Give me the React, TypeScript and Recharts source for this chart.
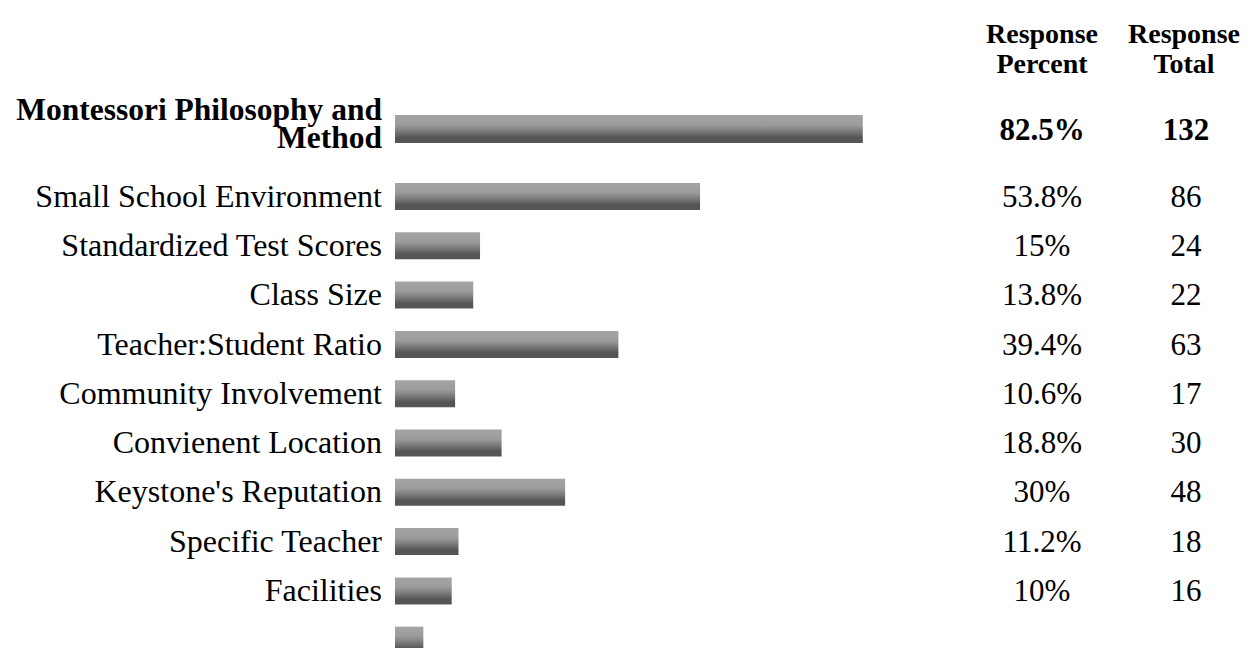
import { Bar, BarChart, XAxis, YAxis } from 'recharts'

const categories = [
  'Montessori Philosophy and Method',
  'Small School Environment',
  'Standardized Test Scores',
  'Class Size',
  'Teacher:Student Ratio',
  'Community Involvement',
  'Convienent Location',
  "Keystone's Reputation",
  'Specific Teacher',
  'Facilities',
  '',
]
const percents = [82.5, 53.8, 15, 13.8, 39.4, 10.6, 18.8, 30, 11.2, 10, 5]
const totals: (number | null)[] = [132, 86, 24, 22, 63, 17, 30, 48, 18, 16, null]
const headerLines = [
  ['Response', 'Percent'],
  ['Response', 'Total'],
]

const FONT = '"Liberation Serif", "Times New Roman", serif'
const LABEL_RIGHT = 382
const PCT_X = 1042
const TOTAL_X = 1186
const AXIS_W = 395
const RIGHT_MARGIN = 298

const rows = categories.map((name, i) => ({ name, percent: percents[i], total: totals[i] }))
const topRows = rows.slice(0, 1)
const restRows = rows.slice(1)

function GradientDef({ id }: { id: string }) {
  return (
    <defs>
      <linearGradient id={id} x1="0" y1="0" x2="0" y2="1">
        <stop offset="0%" stopColor="#a4a4a4" />
        <stop offset="35%" stopColor="#9c9c9c" />
        <stop offset="55%" stopColor="#808080" />
        <stop offset="72%" stopColor="#646464" />
        <stop offset="80%" stopColor="#555555" />
        <stop offset="100%" stopColor="#555555" />
      </linearGradient>
    </defs>
  )
}

function RowTick(props: any) {
  const { y, payload, list, bold } = props
  const row = list.find((r: any) => r.name === payload.value)
  if (!row || !row.name) return null
  const weight = bold ? 'bold' : 'normal'
  const cut = row.name.lastIndexOf(' ')
  return (
    <g fontFamily={FONT} fontSize={bold ? 31.5 : 32} fill="#000" fontWeight={weight}>
      {bold ? (
        <text x={LABEL_RIGHT} y={y} textAnchor="end">
          <tspan x={LABEL_RIGHT} dy={-9}>{row.name.slice(0, cut)}</tspan>
          <tspan x={LABEL_RIGHT} dy={28}>{row.name.slice(cut + 1)}</tspan>
        </text>
      ) : (
        <text x={LABEL_RIGHT} y={y + 10} textAnchor="end">{row.name}</text>
      )}
      <text x={PCT_X} y={y + (bold ? 11 : 10)} textAnchor="middle" fontSize={31}>{row.percent}%</text>
      {row.total != null && (
        <text x={TOTAL_X} y={y + (bold ? 11 : 10)} textAnchor="middle" fontSize={31}>{row.total}</text>
      )}
    </g>
  )
}

function RowChart({ data, height, barSize, id, bold }: any) {
  return (
    <BarChart
      layout="vertical"
      width={1260}
      height={height}
      data={data}
      margin={{ top: 0, right: RIGHT_MARGIN, left: 0, bottom: 0 }}
    >
      <GradientDef id={id} />
      <XAxis type="number" domain={[0, 100]} hide />
      <YAxis
        type="category"
        dataKey="name"
        width={AXIS_W}
        axisLine={false}
        tickLine={false}
        interval={0}
        tick={(p: any) => <RowTick {...p} list={data} bold={bold} />}
      />
      <Bar dataKey="percent" fill={`url(#${id})`} barSize={barSize} isAnimationActive={false} />
    </BarChart>
  )
}

export default function App() {
  return (
    <div
      style={{
        position: 'absolute',
        left: 0,
        top: 0,
        width: 1260,
        height: 648,
        overflow: 'hidden',
        background: '#fff',
      }}
    >
      <svg width={1260} height={90} style={{ position: 'absolute', left: 0, top: 0 }}>
        {headerLines.map((lines, i) => (
          <text
            key={i}
            x={i === 0 ? PCT_X : TOTAL_X - 2}
            textAnchor="middle"
            fontFamily={FONT}
            fontSize={28}
            fontWeight="bold"
            fill="#000"
          >
            <tspan x={i === 0 ? PCT_X : TOTAL_X - 2} y={43}>{lines[0]}</tspan>
            <tspan x={i === 0 ? PCT_X : TOTAL_X - 2} y={73}>{lines[1]}</tspan>
          </text>
        ))}
      </svg>
      <div style={{ position: 'absolute', left: 0, top: 80 }}>
        <RowChart data={topRows} height={98} barSize={28} id="barGradTop" bold />
      </div>
      <div style={{ position: 'absolute', left: 0, top: 172 }}>
        <RowChart data={restRows} height={493} barSize={27} id="barGradRest" />
      </div>
    </div>
  )
}
